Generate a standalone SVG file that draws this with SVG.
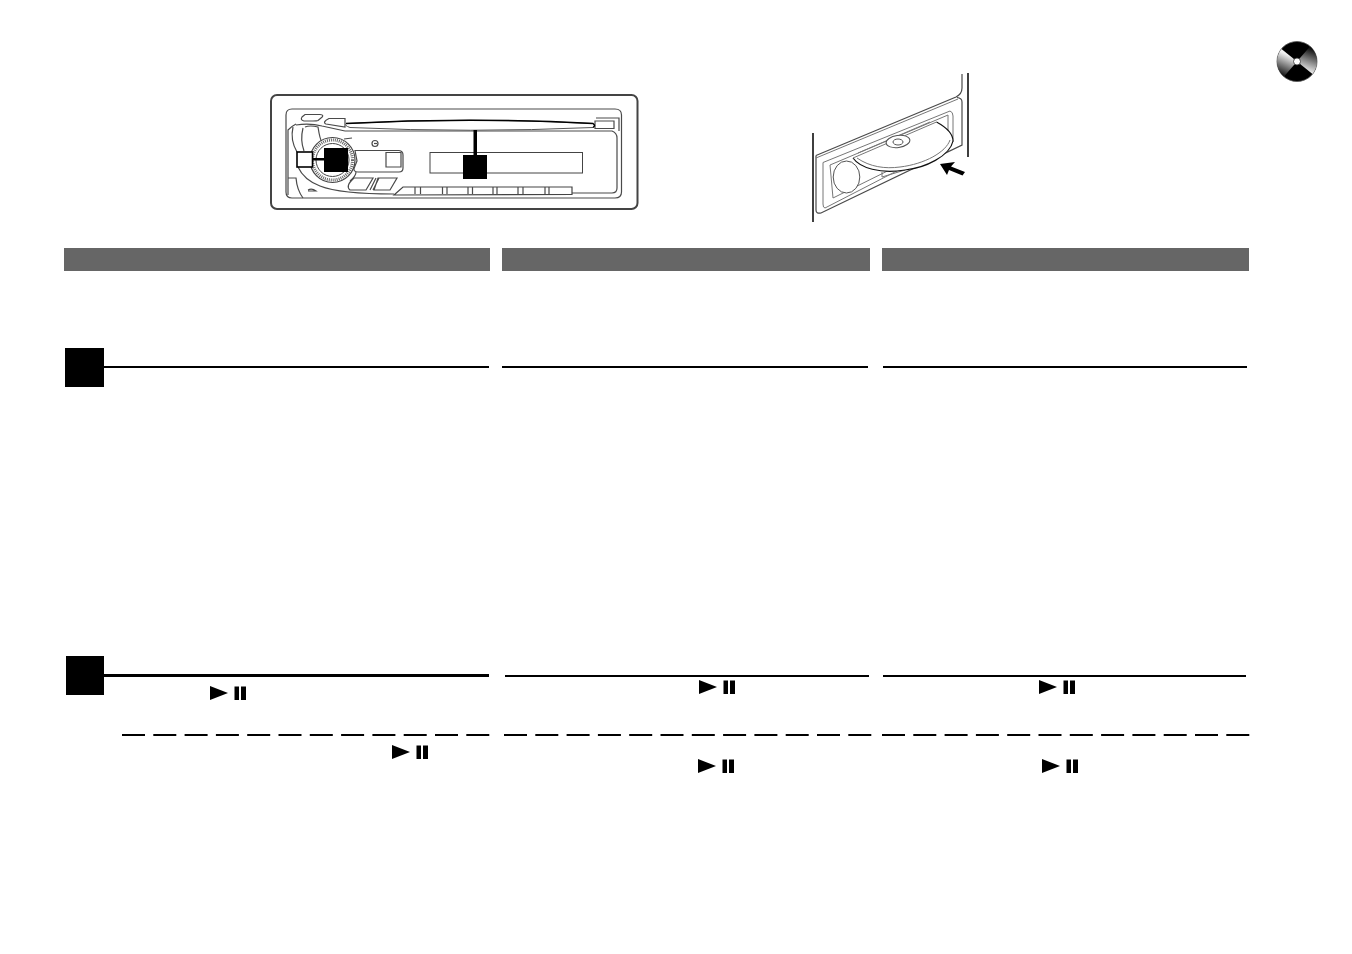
<svg xmlns="http://www.w3.org/2000/svg" width="1352" height="954" viewBox="0 0 1352 954">
<style>
.bar{fill:#666}.sq{fill:#000}.rule{stroke:#000;stroke-width:2;fill:none}
.dash{stroke:#000;stroke-width:2;fill:none;stroke-dasharray:23 8.300}
.g{fill:none;stroke:#4a4a4a;stroke-width:1.200}.g2{fill:#fff;stroke:#444;stroke-width:1.200}
.t{fill:none;stroke:#777;stroke-width:1}
</style>
<defs>
<g id="pp"><path d="M0 0L18 7L0 14Z" fill="#000"/><rect x="24.500" y="0.500" width="4.500" height="13.500" fill="#000"/><rect x="31" y="0.500" width="5" height="13.500" fill="#000"/></g>
<linearGradient id="cd1" gradientUnits="userSpaceOnUse" x1="1286" y1="54" x2="1278" y2="72"><stop offset="0" stop-color="#f2f2f2"/><stop offset="1" stop-color="#222"/></linearGradient>
<linearGradient id="cd2" gradientUnits="userSpaceOnUse" x1="1306" y1="72" x2="1314" y2="50"><stop offset="0" stop-color="#f2f2f2"/><stop offset="1" stop-color="#111"/></linearGradient>
</defs>

<g id="cd-icon">
<circle cx="1297" cy="61.500" r="20" fill="#000" stroke="#555" stroke-width="0.800"/>
<path d="M1297 61.500L1281.500 49A19.700 19.700 0 0 0 1284 76.500Z" fill="url(#cd1)"/>
<path d="M1297 61.500L1312.500 74A19.700 19.700 0 0 0 1310 46.500Z" fill="url(#cd2)"/>
<circle cx="1297" cy="61.500" r="3.500" fill="#fff" stroke="#333" stroke-width="0.800"/>
</g>

<g id="head-unit">
<rect x="271" y="95" width="366.500" height="114" rx="6" fill="#fff" stroke="#444" stroke-width="2"/>
<path class="g" d="M292 109H615Q621.500 109 621.500 115V192Q621.500 198 615 198H292Q286 198 286 192V115Q286 109 292 109Z"/>
<path class="g" d="M345 131H612Q617 133 617 138V188Q617 193 612 193H572"/>
<path class="g" d="M305 114.500H320Q325 115 321 118L318 120.500Q317 121 313 121H304Q300 120 302 117Z"/>
<path class="g" d="M329 118.500H345V127L326 124Q322 122 329 118.500Z"/>
<path class="g" d="M595 121H614V128.500H595Z"/>
<path class="g" d="M596 118H619V131"/>
<path d="M346 123.500Q470 117 593 123.500Q596 125.500 593 127.500Q470 133 350 127.500Q344 125.500 346 123.500Z" fill="#fff" stroke="#555" stroke-width="1"/>
<path d="M346 123.500Q470 117 593 123.500Q596 125.500 593 127.500" fill="none" stroke="#000" stroke-width="1.500"/>
<path class="g" d="M296 125Q310 123 322 126L345 131M293 127Q290 140 297 152M296 124Q292 126 288 130V178H296Q297 190 303 198M288 178V195M298 167Q304 180 320 186Q340 194 394 194"/>
<path class="g" d="M305 127Q310 125 318 127Q320 140 322 142M303 128Q300 140 304 151"/>
<path class="g" d="M308 190Q312 188 316 191H308"/>
<path class="g" d="M350 181Q356 176 356 172"/>
<circle cx="332.500" cy="160" r="22.500" fill="#fff" stroke="#444" stroke-width="1.200"/>
<circle cx="332.500" cy="160" r="20" fill="none" stroke="#666" stroke-width="3" stroke-dasharray="1 1"/>
<circle cx="332.500" cy="160" r="16.500" fill="#fff" stroke="#444" stroke-width="1"/>
<rect x="324" y="148" width="24" height="24" fill="#000"/>
<rect x="297" y="152" width="15.500" height="15" fill="#fff" stroke="#000" stroke-width="1.600"/>
<rect x="312" y="158" width="14" height="2.500" fill="#000"/>
<path class="g" d="M355 150.500H399Q403 151 403 155V168Q403 172 399 172H358Q352 172 355 166L357 161Z"/>
<path class="g" d="M386 152.500H401V167H386Z"/>
<circle cx="375" cy="143.500" r="3" class="g"/>
<path class="g" d="M374 143.500H377"/>
<path class="g" d="M344 139L352 138"/>
<path class="g" d="M354 178H373L366 190H350Q345 186 354 178ZM378 178H397L390 190H374ZM370 190L376 178M373 190L379 178"/>
<rect x="430" y="152.500" width="152.500" height="20.500" fill="#fff" stroke="#444" stroke-width="1"/>
<rect x="463" y="155" width="24" height="24" fill="#000"/>
<rect x="473.500" y="130" width="3.500" height="26" fill="#000"/>
<path class="g2" d="M394 195L403 187H572V194.500Z"/>
<path class="g" d="M415 187V194M420.500 187V194M442.500 187V194M447 187V194M468 187V194M472.500 187V194M493 187V194M497 187V194M518 187V194M523 187V194M545 187V194M549 187V194"/>
</g>

<g id="cd-slot">
<path d="M813 133V222M968 73V157" stroke="#000" stroke-width="1.500" fill="none"/>
<path class="g" d="M816 155.500L956 97Q962 94 962 88V74"/>
<path class="g" d="M816 155.500V210Q816 214 821 213L962 145V102Q962 98 957 97.500"/>
<path class="t" d="M816 158L958 99"/>
<path class="t" d="M823 162.500L950 111Q953 112 953 116V142L825 208Q823 208 823 204Z"/>
<path class="t" d="M830 165L948 115V141L833 198Z"/>
<ellipse cx="846.500" cy="177" rx="13.300" ry="16" fill="#fff" stroke="#555" stroke-width="1"/>
<path class="t" d="M882 172V177L905 170"/>
<path d="M853 158L936.500 122Q953 131 953 141C950 156 925 168 905 170C880 174 860 168 853 158Z" fill="#fff" stroke="none"/>
<path d="M853 158C860 168 880 174 905 170C925 168 950 156 953 141Q953 131 936.500 122" fill="none" stroke="#111" stroke-width="1.200"/>
<path class="t" d="M857 158C870 167 885 169 900 167C925 164 946 152 950 140"/>
<path class="t" d="M853 158L936.500 122"/>
<path class="t" d="M858 153L930 122"/>
<ellipse cx="898" cy="141.500" rx="12" ry="6" fill="#fff" stroke="#555" stroke-width="1" transform="rotate(-8 898 141.500)"/>
<ellipse cx="898" cy="142" rx="5" ry="3" fill="none" stroke="#555" stroke-width="1"/>
<path d="M940 164L955 162L951 166.500L965 172L962.500 175.500L949 170L947 175Z" fill="#000"/>
</g>

<g id="header-1"><rect class="bar" x="64" y="248" width="426" height="23"/></g>
<g id="header-2"><rect class="bar" x="502" y="248" width="368" height="23"/></g>
<g id="header-3"><rect class="bar" x="882" y="248" width="367" height="23"/></g>

<g id="step-1"><rect class="sq" x="65" y="348" width="39" height="39"/></g>
<g id="step-2"><rect class="sq" x="66" y="656" width="38" height="39"/></g>

<g id="connectors">
<path class="rule" d="M104 367H489M502 367H868M883 367H1247"/>
<path class="rule" d="M505 676H869M883 676H1246"/>
<path d="M104 675.500H489" stroke="#000" stroke-width="3" fill="none"/>
<path class="dash" d="M122 735H490"/>
<path class="dash" d="M504 735H872"/>
<path class="dash" d="M882 735H1250"/>
</g>

<g id="play-pause-icons">
<use href="#pp" x="210" y="686"/>
<use href="#pp" x="392" y="745"/>
<use href="#pp" x="699" y="680"/>
<use href="#pp" x="698" y="759"/>
<use href="#pp" x="1039" y="680"/>
<use href="#pp" x="1042" y="759"/>
</g>
</svg>
